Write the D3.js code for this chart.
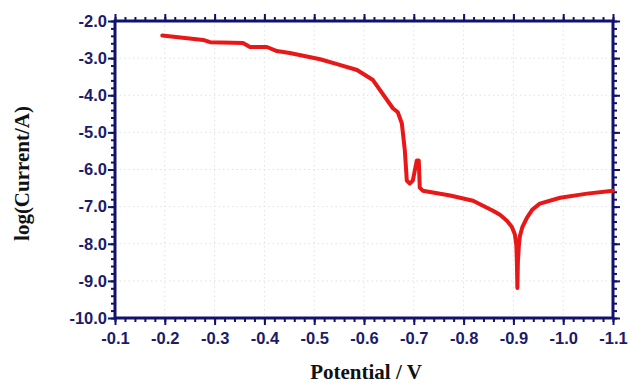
<!DOCTYPE html>
<html>
<head>
<meta charset="utf-8">
<script src="https://cdn.jsdelivr.net/npm/d3@7"></script>
<style>
  body { margin: 0; background: #fff; }
  .tick text { font-family: "Liberation Sans", Arial, sans-serif; font-weight: bold; font-size: 16.5px; fill: #1c1c6b; }
  .title { font-family: "Liberation Serif", "Times New Roman", serif; font-weight: bold; font-size: 21px; fill: #111; }
</style>
</head>
<body>
<div id="chart"></div>
<script>
// Tafel curve, potential (V) vs log(current)
const potential = [-0.195, -0.277, -0.291, -0.357, -0.371, -0.405, -0.425, -0.451, -0.512, -0.546,
  -0.586, -0.618, -0.658, -0.668, -0.676, -0.682, -0.686, -0.692, -0.698, -0.706,
  -0.710, -0.712, -0.718, -0.773, -0.819, -0.859, -0.873, -0.887, -0.897, -0.903,
  -0.906, -0.907, -0.908, -0.909, -0.911, -0.913, -0.918, -0.927, -0.938, -0.953,
  -0.994, -1.048, -1.100];
const logCurrent = [-2.39, -2.51, -2.57, -2.59, -2.70, -2.70, -2.81, -2.86, -3.03, -3.16,
  -3.32, -3.59, -4.35, -4.46, -4.76, -5.49, -6.30, -6.38, -6.30, -5.76,
  -5.76, -6.49, -6.57, -6.70, -6.84, -7.11, -7.22, -7.38, -7.55, -7.75,
  -8.05, -8.50, -9.19, -8.50, -8.05, -7.80, -7.55, -7.30, -7.08, -6.92,
  -6.76, -6.65, -6.57];
const xTicks = [-0.1, -0.2, -0.3, -0.4, -0.5, -0.6, -0.7, -0.8, -0.9, -1.0, -1.1];
const yTicks = [-2, -3, -4, -5, -6, -7, -8, -9, -10];

const width = 628, height = 385;
const margin = { top: 21, right: 15, bottom: 67, left: 115 };
const iw = width - margin.left - margin.right;
const ih = height - margin.top - margin.bottom;
const navy = "#12126e";

const svg = d3.select("#chart").append("svg")
  .attr("width", width).attr("height", height);
const g = svg.append("g").attr("transform", `translate(${margin.left},${margin.top})`);

const x = d3.scaleLinear().domain([-0.1, -1.1]).range([0, iw]);
const y = d3.scaleLinear().domain([-10, -2]).range([ih, 0]);
const fmt = d => d.toFixed(1);

// dotted grid
g.append("g").selectAll("line").data(xTicks.slice(1, -1)).join("line")
  .attr("x1", d => x(d)).attr("x2", d => x(d)).attr("y1", 0).attr("y2", ih)
  .attr("stroke", "#e2e2e6").attr("stroke-dasharray", "1.5,3");
g.append("g").selectAll("line").data(yTicks.slice(1, -1)).join("line")
  .attr("y1", d => y(d)).attr("y2", d => y(d)).attr("x1", 0).attr("x2", iw)
  .attr("stroke", "#e2e2e6").attr("stroke-dasharray", "1.5,3");

// minor ticks
const xMinor = d3.range(0, 51).map(i => -0.1 - i * 0.02);
const yMinor = d3.range(0, 41).map(i => -10 + i * 0.2);

function styleAxis(sel) {
  sel.select(".domain").remove();
  sel.selectAll(".tick line").attr("stroke", navy).attr("stroke-width", 2);
}

g.append("g").attr("transform", `translate(0,${ih})`)
  .call(d3.axisBottom(x).tickValues(xMinor).tickSize(4).tickFormat(""))
  .call(styleAxis);
g.append("g")
  .call(d3.axisTop(x).tickValues(xMinor).tickSize(4).tickFormat(""))
  .call(styleAxis);
g.append("g")
  .call(d3.axisLeft(y).tickValues(yMinor).tickSize(4).tickFormat(""))
  .call(styleAxis);
g.append("g").attr("transform", `translate(${iw},0)`)
  .call(d3.axisRight(y).tickValues(yMinor).tickSize(4).tickFormat(""))
  .call(styleAxis);

// major ticks with labels
g.append("g").attr("transform", `translate(0,${ih})`)
  .call(d3.axisBottom(x).tickValues(xTicks).tickSize(7).tickPadding(7).tickFormat(fmt))
  .call(styleAxis);
g.append("g")
  .call(d3.axisTop(x).tickValues(xTicks).tickSize(7).tickFormat(""))
  .call(styleAxis);
g.append("g")
  .call(d3.axisLeft(y).tickValues(yTicks).tickSize(7).tickPadding(1).tickFormat(fmt))
  .call(styleAxis);
g.append("g").attr("transform", `translate(${iw},0)`)
  .call(d3.axisRight(y).tickValues(yTicks).tickSize(7).tickFormat(""))
  .call(styleAxis);

// frame
g.append("rect").attr("width", iw).attr("height", ih)
  .attr("fill", "none").attr("stroke", navy).attr("stroke-width", 3);

// curve
const data = potential.map((v, i) => ({ v, l: logCurrent[i] }));
g.append("path").datum(data)
  .attr("fill", "none").attr("stroke", "#e81818").attr("stroke-width", 4)
  .attr("stroke-linejoin", "round").attr("stroke-linecap", "round")
  .attr("d", d3.line().x(d => x(d.v)).y(d => y(d.l)));

// titles
svg.append("text").attr("class", "title")
  .attr("x", margin.left + iw / 2 + 2).attr("y", 379)
  .attr("text-anchor", "middle").text("Potential / V");
svg.append("text").attr("class", "title")
  .attr("transform", `translate(29,${margin.top + ih / 2 + 4}) rotate(-90)`)
  .attr("text-anchor", "middle").text("log(Current/A)");
</script>
</body>
</html>
